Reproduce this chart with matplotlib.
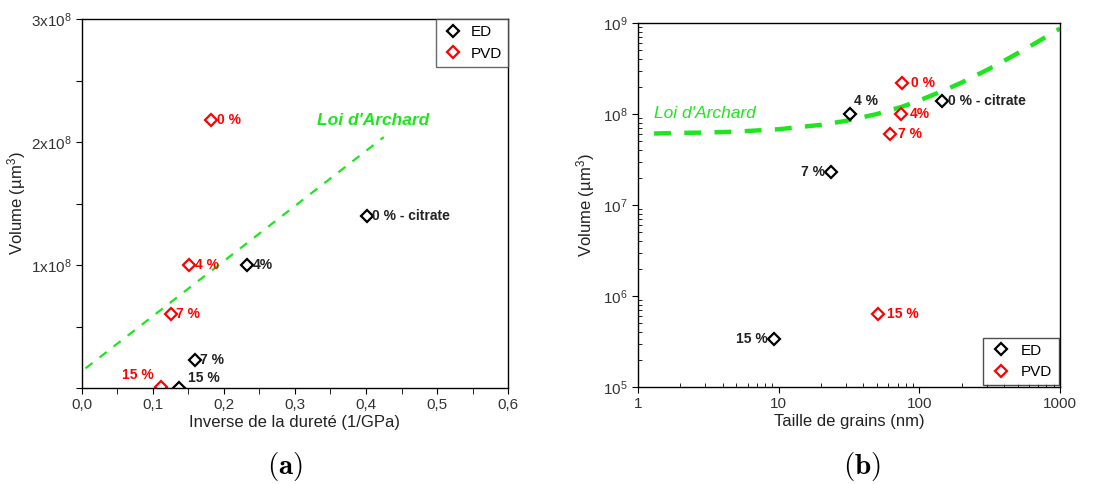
import numpy as np
import matplotlib
matplotlib.use("Agg")
import matplotlib.pyplot as plt
from matplotlib.ticker import FixedLocator, FuncFormatter, LogLocator, NullFormatter

plt.rcParams['font.family'] = ['Liberation Sans', 'DejaVu Sans']
plt.rcParams['mathtext.fontset'] = 'custom'
plt.rcParams['mathtext.rm'] = 'Liberation Sans'
plt.rcParams['mathtext.it'] = 'Liberation Sans:italic'
plt.rcParams['mathtext.bf'] = 'Liberation Sans:bold'

# --- data ---
labels_a_ed = ["0 % - citrate", "4%", "7 %", "15 %"]
labels_a_pvd = ["0 %", "4 %", "7 %", "15 %"]
labels_b_ed = ["0 % - citrate", "4 %", "7 %", "15 %"]
labels_b_pvd = ["0 %", "4%", "7 %", "15 %"]

inv_hard_ed = [0.401, 0.232, 0.159, 0.137]
inv_hard_pvd = [0.182, 0.151, 0.125, 0.111]

grain_ed = [145, 32, 23.4, 9.2]
grain_pvd = [75.5, 74.5, 61.5, 50.5]

vol_ed = [1.40e8, 1.00e8, 2.29e7, 3.4e5]
vol_pvd = [2.18e8, 1.00e8, 6.0e7, 6.4e5]

archard_a_x = [0.005, 0.425]
archard_a_y = [1.6e7, 2.04e8]

archard_b_x = [1.3, 2, 3, 5, 10, 20, 30, 50, 75, 100, 150, 200, 300, 400, 600, 800, 1000]
archard_b_y = [6.1e7, 6.2e7, 6.25e7, 6.4e7, 6.8e7, 7.6e7, 8.4e7, 1.0e8, 1.2e8,
               1.41e8, 1.82e8, 2.22e8, 3.03e8, 3.84e8, 5.46e8, 7.08e8, 8.7e8]

GREEN = '#1ee61e'
TXT = '#222222'

fig = plt.figure(figsize=(11.18, 4.84), dpi=100)
ax1 = fig.add_axes([0.0733, 0.1983, 0.3811, 0.7624])
ax2 = fig.add_axes([0.5707, 0.2004, 0.3775, 0.7521])

mk = dict(marker='D', ms=6, mfc='none', mew=1.6, ls='none')

# ---------- (a) ----------
ax1.plot(archard_a_x, archard_a_y, color=GREEN, lw=1.6, dashes=(4, 4))
ax1.plot(inv_hard_ed, vol_ed, color='black', label='ED', **mk)
ax1.plot(inv_hard_pvd, vol_pvd, color='red', label='PVD', **mk)

offs_a_ed = [(4, 0, 'left'), (4, 0, 'left'), (4, 0, 'left'), (6, 7, 'left')]
offs_a_pvd = [(4, 0, 'left'), (4, 0, 'left'), (4, 0, 'left'), (-5, 9, 'right')]
for x, y, t, (dx, dy, ha) in zip(inv_hard_ed, vol_ed, labels_a_ed, offs_a_ed):
    ax1.annotate(t, (x, y), xytext=(dx, dy), textcoords='offset points',
                 ha=ha, va='center', fontsize=10, fontweight='bold', color=TXT)
for x, y, t, (dx, dy, ha) in zip(inv_hard_pvd, vol_pvd, labels_a_pvd, offs_a_pvd):
    ax1.annotate(t, (x, y), xytext=(dx, dy), textcoords='offset points',
                 ha=ha, va='center', fontsize=10, fontweight='bold', color='red')
ax1.text(0.41, 2.11e8, "Loi d'Archard", color=GREEN, fontsize=12.5,
         fontweight='bold', fontstyle='italic', ha='center', va='bottom')

ax1.set_xlim(0, 0.6)
ax1.set_ylim(0, 3e8)
ax1.set_xticks(np.arange(0, 0.61, 0.1))
ax1.xaxis.set_minor_locator(FixedLocator(np.arange(0.05, 0.6, 0.1)))
ax1.xaxis.set_major_formatter(FuncFormatter(lambda v, p: f"{v:.1f}".replace('.', ',')))
ax1.set_yticks(np.arange(0, 3.01e8, 0.5e8))
ax1.yaxis.set_major_formatter(FuncFormatter(
    lambda v, p: r'$%d\mathrm{x}10^8$' % round(v / 1e8) if v > 0 and abs(v / 1e8 - round(v / 1e8)) < 1e-6 else ''))
ax1.tick_params(which='both', direction='out', length=4, labelsize=11, labelcolor='#333333')
ax1.set_xlabel('Inverse de la dureté (1/GPa)', fontsize=12, color=TXT, labelpad=2)
ax1.set_ylabel('Volume (µm$^3$)', fontsize=12, color=TXT, labelpad=2)
leg1 = ax1.legend(loc='upper right', fontsize=11, frameon=True, fancybox=False,
                  borderaxespad=0, handletextpad=0.4, borderpad=0.4, handlelength=1.5)
leg1.get_frame().set_edgecolor('#444444')
leg1.get_frame().set_linewidth(1.0)

# ---------- (b) ----------
ax2.plot(archard_b_x, archard_b_y, color=GREEN, lw=3.2, dashes=(3.8, 3))
ax2.plot(grain_ed, vol_ed, color='black', label='ED', **mk)
ax2.plot(grain_pvd, vol_pvd, color='red', label='PVD', **mk)

offs_b_ed = [(4, 0, 'left'), (3, 9, 'left'), (-4, 0, 'right'), (-4, 0, 'right')]
offs_b_pvd = [(6, 0, 'left'), (6, 0, 'left'), (6, 0, 'left'), (7, 0, 'left')]
for x, y, t, (dx, dy, ha) in zip(grain_ed, vol_ed, labels_b_ed, offs_b_ed):
    ax2.annotate(t, (x, y), xytext=(dx, dy), textcoords='offset points',
                 ha=ha, va='center', fontsize=10, fontweight='bold', color=TXT)
for x, y, t, (dx, dy, ha) in zip(grain_pvd, vol_pvd, labels_b_pvd, offs_b_pvd):
    ax2.annotate(t, (x, y), xytext=(dx, dy), textcoords='offset points',
                 ha=ha, va='center', fontsize=10, fontweight='bold', color='red')
ax2.text(1.3, 1.0e8, "Loi d'Archard", color=GREEN, fontsize=12.5,
         fontstyle='italic', ha='left', va='center')

ax2.set_xscale('log')
ax2.set_yscale('log')
ax2.set_xlim(1, 1000)
ax2.set_ylim(1e5, 1e9)
ax2.xaxis.set_major_formatter(FuncFormatter(lambda v, p: f"{v:g}"))
ax2.yaxis.set_major_locator(LogLocator(base=10, numticks=10))
ax2.yaxis.set_major_formatter(FuncFormatter(lambda v, p: r'$10^{%d}$' % round(np.log10(v))))
ax2.xaxis.set_minor_locator(LogLocator(base=10, subs=np.arange(2, 10), numticks=10))
ax2.yaxis.set_minor_locator(LogLocator(base=10, subs=np.arange(2, 10), numticks=10))
ax2.xaxis.set_minor_formatter(NullFormatter())
ax2.yaxis.set_minor_formatter(NullFormatter())
ax2.tick_params(which='major', direction='out', length=4, labelsize=11, labelcolor='#333333')
ax2.tick_params(which='minor', direction='in', length=3)
ax2.set_xlabel('Taille de grains (nm)', fontsize=12, color=TXT, labelpad=2)
ax2.set_ylabel('Volume (µm$^3$)', fontsize=12, color=TXT, labelpad=4)
leg2 = ax2.legend(loc='lower right', fontsize=11, frameon=True, fancybox=False,
                  borderaxespad=0.1, handletextpad=0.6, borderpad=0.4, handlelength=1.5)
leg2.get_frame().set_edgecolor('#222222')
leg2.get_frame().set_linewidth(1.0)

for ax in (ax1, ax2):
    for s in ax.spines.values():
        s.set_linewidth(1.0)

fig.text(0.255, 0.037, r'$\mathbf{(a)}$', fontsize=21, ha='center', va='center', math_fontfamily='cm')
fig.text(0.771, 0.037, r'$\mathbf{(b)}$', fontsize=21, ha='center', va='center', math_fontfamily='cm')

fig.savefig('out.png', dpi=100)
